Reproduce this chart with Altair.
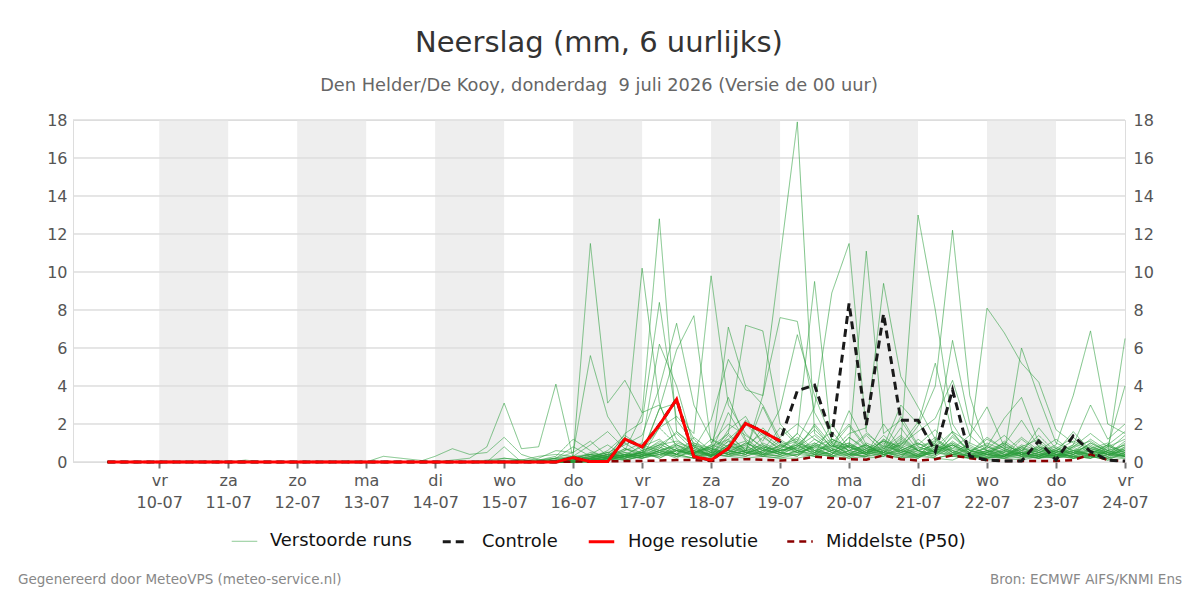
import altair as alt
import pandas as pd

# ---------------- data (mm per 6 h), steps from 09-07 06 UTC, every 6 h ----------------
START = "2026-07-09 06:00"
N_STEPS = 60

Z20 = [0, 0, 0, 0, 0, 0, 0, 0, 0, 0, 0, 0, 0, 0, 0, 0, 0, 0, 0, 0]

members = {
    "m01": Z20 + [0, 0, 0.1, 0.2, 0.1, 0.3, 0.4, 0.3, 11.5, 3.1, 4.3, 2.6, 3.0, 1.2, 0.5, 0.8, 1.5, 0.6, 0.4, 0.9]
               + [1.2, 0.5, 0.3, 0.8, 0.4, 0.6, 0.2, 0.4, 1.0, 0.5, 0.3, 0.2, 0.4, 0.8, 0.3, 0.2, 0.5, 0.9, 0.4, 0.6],
    "m02": [0, 0, 0, 0, 0, 0, 0, 0, 0, 0, 0, 0, 0, 0, 0, 0, 0.3, 0.2, 0.1, 0]
               + [0, 0, 0, 0.8, 0, 0.2, 0.6, 0.5, 5.6, 2.4, 1.0, 0.4, 2.8, 3.1, 1.2, 0.3, 0.9, 2.2, 1.4, 0.6]
               + [0.8, 1.9, 0.7, 0.3, 0.5, 1.1, 0.4, 0.2, 0.6, 0.9, 0.3, 0.1, 0.2, 0.6, 1.4, 0.5, 0.3, 0.2, 0.8, 1.2],
    "m03": Z20 + [0.1, 0.2, 0.8, 3.1, 0.7, 0.8, 4.1, 0.2, 0.1, 0.4, 1.3, 0.6, 1.8, 0.9, 0.4, 0.2, 1.1, 0.5, 0.3, 0.2]
               + [0.4, 0.9, 1.6, 0.5, 0.2, 0.3, 0.8, 0.4, 0.2, 0.1, 0.5, 1.3, 0.7, 0.3, 0.2, 0.4, 0.6, 0.3, 0.1, 0.2],
    "m04": Z20 + [0, 0, 0, 0.2, 0.1, 0, 0.1, 0.3, 0.4, 0.2, 0.6, 2.5, 12.8, 1.6, 0.8, 0.3, 1.7, 2.4, 0.9, 0.5]
               + [0.3, 1.0, 0.6, 2.7, 0.9, 0.4, 0.2, 1.2, 0.5, 0.3, 0.8, 0.4, 0.2, 0.1, 0.3, 0.6, 0.2, 0.4, 0.9, 0.3],
    "m05": Z20 + [0, 0, 0, 0, 0.1, 0.1, 0.2, 0.5, 1.1, 0.3, 1.0, 10.2, 3.1, 0.7, 0.4, 0.9, 3.4, 1.2, 0.6, 1.8]
               + [0.9, 0.4, 0.3, 0.6, 1.4, 0.5, 0.3, 0.2, 0.7, 1.0, 0.4, 0.2, 0.5, 0.3, 0.9, 0.4, 0.2, 0.3, 0.1, 0.5],
    "m06": Z20 + [0, 0, 0, 0, 0, 0.1, 0.3, 1.2, 0.6, 0.2, 1.5, 2.1, 8.4, 2.2, 1.0, 0.5, 2.6, 1.1, 0.4, 0.3]
               + [0.6, 0.3, 1.2, 0.8, 0.4, 2.0, 0.7, 0.3, 0.5, 1.6, 0.4, 0.2, 0.3, 0.7, 0.4, 0.2, 0.8, 1.1, 0.5, 0.3],
    "m07": Z20 + [0, 0, 0, 0.1, 0, 0, 0.2, 0.8, 0.3, 0.5, 0.9, 1.4, 3.9, 7.3, 3.0, 1.2, 0.6, 0.4, 1.3, 0.7]
               + [1.5, 0.6, 0.3, 0.4, 0.9, 0.5, 1.3, 0.6, 0.2, 0.4, 0.3, 0.6, 1.0, 0.4, 0.2, 0.5, 0.3, 0.7, 0.4, 1.1],
    "m08": Z20 + [0, 0, 0, 0, 0, 0, 0.1, 0.3, 0.9, 1.6, 0.7, 0.5, 2.8, 5.9, 7.7, 1.0, 2.0, 1.4, 0.8, 0.5]
               + [0.3, 0.9, 0.5, 0.2, 0.6, 0.4, 0.9, 2.1, 0.8, 0.3, 0.2, 0.5, 0.3, 0.8, 1.2, 0.4, 0.3, 0.2, 0.6, 0.9],
    "m09": Z20 + [0, 0, 0, 0, 0, 0.1, 0, 0.2, 0.4, 0.2, 0.7, 0.3, 1.8, 2.4, 1.5, 9.8, 3.0, 1.5, 0.7, 0.4]
               + [1.1, 0.5, 0.4, 1.3, 0.6, 0.3, 0.5, 0.9, 1.7, 0.6, 0.3, 0.4, 0.2, 0.5, 0.3, 0.7, 1.3, 0.5, 0.2, 0.4],
    "m10": Z20 + [0, 0, 0, 0, 0.1, 0, 0.2, 0.1, 0.5, 0.3, 0.6, 1.0, 6.2, 4.0, 0.8, 0.3, 1.4, 0.6, 2.9, 1.0]
               + [0.5, 0.8, 0.3, 0.6, 0.4, 1.0, 0.5, 0.3, 0.7, 0.4, 0.2, 0.3, 1.1, 0.5, 0.3, 0.2, 0.4, 0.8, 0.5, 0.3],
    "m11": Z20 + [0, 0, 0, 0, 0, 0, 0, 0.1, 0.3, 0.2, 0.4, 0.8, 1.2, 0.5, 0.9, 0.6, 1.5, 7.2, 6.9, 2.0]
               + [1.0, 0.6, 0.9, 0.4, 0.3, 1.2, 0.5, 0.2, 0.8, 0.6, 0.3, 0.5, 0.9, 2.2, 0.8, 0.4, 0.3, 0.6, 0.4, 0.2],
    "m12": Z20 + [0, 0, 0, 0, 0, 0, 0, 0, 0.2, 0.4, 0.3, 0.6, 0.9, 1.1, 0.7, 2.2, 5.4, 3.8, 3.5, 7.6]
               + [7.4, 2.6, 1.0, 0.6, 0.9, 0.4, 0.7, 0.3, 0.5, 1.0, 0.6, 0.3, 0.2, 0.4, 0.7, 0.3, 0.5, 0.2, 0.6, 1.4],
    "m13": Z20 + [0, 0, 0, 0, 0, 0, 0.1, 0, 0.3, 0.5, 0.2, 0.4, 0.7, 1.6, 0.9, 0.2, 7.1, 4.0, 3.0, 1.2]
               + [0.6, 2.0, 0.9, 0.4, 0.5, 0.3, 1.1, 0.6, 0.3, 0.8, 0.4, 0.2, 0.6, 0.3, 0.2, 0.5, 0.8, 0.3, 0.2, 0.5],
    "m14": Z20 + [0, 0, 0, 0, 0, 0, 0, 0.1, 0.2, 0.1, 0.3, 0.5, 0.9, 0.6, 0.4, 1.2, 0.8, 0.5, 3.5, 10.7]
               + [17.9, 1.5, 0.8, 1.9, 0.7, 0.4, 0.6, 0.3, 1.2, 0.5, 0.3, 0.8, 0.4, 0.2, 0.5, 0.3, 0.2, 0.6, 0.4, 0.3],
    "m15": Z20 + [0, 0, 0, 0, 0, 0, 0, 0, 0.1, 0.3, 0.2, 0.6, 1.0, 0.4, 0.8, 0.5, 1.2, 2.0, 1.1, 2.8]
               + [6.7, 3.5, 1.2, 0.8, 0.5, 1.4, 0.6, 0.3, 0.9, 0.4, 0.2, 0.5, 1.0, 0.4, 0.3, 0.6, 0.2, 0.4, 0.9, 0.5],
    "m16": Z20 + [0, 0, 0, 0, 0, 0, 0, 0.1, 0.2, 0.4, 0.1, 0.3, 0.6, 0.9, 0.5, 0.3, 0.8, 1.1, 0.4, 0.6]
               + [1.5, 9.5, 1.0, 2.0, 0.8, 0.5, 1.8, 0.6, 0.4, 1.1, 0.5, 0.3, 0.7, 0.4, 0.2, 0.3, 0.6, 0.4, 0.2, 0.8],
    "m17": Z20 + [0, 0, 0, 0, 0, 0, 0, 0, 0.1, 0.2, 0.5, 0.3, 0.8, 0.4, 1.3, 0.6, 0.4, 0.9, 1.5, 0.8]
               + [1.1, 2.9, 8.9, 11.5, 1.6, 0.7, 0.9, 0.5, 0.3, 1.4, 0.6, 0.4, 0.3, 0.8, 0.5, 0.2, 0.4, 0.7, 1.0, 0.4],
    "m18": Z20 + [0, 0, 0, 0, 0, 0, 0, 0, 0, 0.1, 0.3, 0.5, 0.2, 0.7, 0.5, 0.9, 0.6, 0.4, 1.0, 0.6]
               + [0.9, 1.7, 0.8, 0.8, 11.1, 1.5, 2.2, 0.8, 0.5, 0.9, 0.4, 0.6, 0.3, 1.2, 0.5, 0.3, 0.6, 0.4, 0.3, 0.7],
    "m19": Z20 + [0, 0, 0, 0, 0, 0, 0, 0, 0.1, 0.1, 0.2, 0.4, 0.3, 0.9, 0.6, 0.4, 1.1, 0.7, 0.5, 1.3]
               + [2.0, 1.2, 0.6, 1.5, 1.8, 9.4, 4.5, 2.9, 1.2, 0.7, 0.5, 1.0, 0.6, 0.4, 0.8, 0.3, 0.5, 1.2, 0.6, 0.4],
    "m20": Z20 + [0, 0, 0, 0, 0, 0, 0, 0.1, 0, 0.2, 0.4, 0.2, 0.6, 0.3, 0.5, 0.8, 0.4, 0.6, 0.9, 0.5]
               + [1.0, 0.7, 0.4, 0.9, 0.6, 0.8, 1.0, 13.0, 8.0, 2.0, 0.6, 0.9, 0.4, 0.3, 0.7, 0.4, 0.3, 0.5, 0.8, 0.6],
    "m21": Z20 + [0, 0, 0, 0, 0, 0, 0, 0, 0.2, 0.1, 0.3, 0.5, 0.4, 0.6, 0.3, 0.7, 0.5, 1.0, 0.6, 0.4]
               + [0.8, 0.5, 1.1, 0.6, 0.4, 1.2, 0.7, 1.9, 4.0, 12.2, 3.5, 0.5, 0.8, 0.4, 0.6, 0.3, 0.9, 0.5, 0.3, 0.6],
    "m22": Z20 + [0, 0, 0, 0, 0, 0, 0.1, 0.2, 0.4, 0.3, 0.2, 0.5, 0.8, 0.4, 0.6, 0.3, 0.9, 0.5, 0.7, 0.4]
               + [0.5, 1.2, 0.7, 0.4, 1.0, 0.6, 2.4, 0.9, 1.0, 6.4, 2.0, 0.8, 0.5, 1.3, 0.6, 0.4, 0.7, 0.3, 0.5, 0.9],
    "m23": Z20 + [0, 0, 0, 0, 0, 0, 0, 0.1, 0.3, 0.2, 0.4, 0.3, 0.6, 0.8, 0.5, 0.4, 0.7, 0.9, 0.3, 0.6]
               + [0.9, 0.4, 2.0, 0.7, 1.5, 0.8, 3.0, 2.0, 5.2, 1.5, 0.6, 0.4, 0.9, 0.5, 0.3, 0.6, 0.4, 1.0, 0.5, 0.3],
    "m24": Z20 + [0, 0, 0, 0, 0, 0, 0, 0, 0.1, 0.2, 0.1, 0.3, 0.5, 0.4, 0.2, 0.6, 0.4, 0.8, 0.5, 0.3]
               + [0.6, 0.9, 0.5, 0.3, 0.7, 1.1, 0.6, 0.4, 0.8, 1.6, 1.0, 8.1, 6.8, 5.2, 4.2, 1.7, 1.0, 0.6, 0.4, 0.8],
    "m25": Z20 + [0, 0, 0, 0, 0, 0, 0, 0.1, 0, 0.2, 0.3, 0.2, 0.4, 0.7, 0.3, 0.5, 0.6, 0.4, 0.8, 0.5]
               + [0.4, 0.8, 0.6, 1.0, 0.5, 0.7, 1.4, 0.6, 0.9, 0.5, 0.3, 0.6, 0.5, 6.0, 3.4, 1.0, 0.6, 0.8, 0.4, 0.7],
    "m26": Z20 + [0, 0, 0, 0, 0, 0, 0, 0, 0.1, 0.1, 0.3, 0.5, 0.2, 0.6, 0.4, 0.3, 0.7, 0.5, 0.4, 0.9]
               + [0.6, 0.4, 0.9, 0.5, 0.3, 0.8, 0.6, 1.0, 0.5, 1.3, 0.6, 0.4, 0.3, 0.7, 0.5, 0.9, 3.5, 6.9, 2.0, 1.5],
    "m27": Z20 + [0, 0, 0, 0, 0, 0, 0, 0, 0, 0.2, 0.1, 0.3, 0.6, 0.4, 0.2, 0.5, 0.3, 0.6, 0.4, 0.7]
               + [0.5, 0.3, 0.6, 0.9, 0.4, 0.6, 0.3, 0.8, 0.5, 0.4, 1.0, 0.6, 0.4, 0.5, 0.3, 0.6, 1.1, 0.7, 0.5, 6.5],
    "m28": Z20 + [0, 0, 0, 0, 0, 0, 0, 0.1, 0.2, 0.1, 0.4, 0.3, 0.5, 0.2, 0.7, 0.4, 0.5, 0.3, 0.6, 0.8]
               + [0.7, 0.5, 1.0, 0.4, 0.8, 0.5, 1.2, 0.6, 0.4, 0.9, 0.5, 0.7, 1.4, 0.6, 0.4, 0.3, 0.8, 1.5, 0.8, 4.0],
    "m29": Z20 + [0, 0, 0, 0, 0, 0, 0, 0, 0.1, 0.3, 0.2, 0.4, 0.3, 0.6, 0.5, 0.7, 0.4, 0.3, 0.6, 0.5]
               + [0.9, 0.6, 0.4, 1.3, 0.7, 0.5, 0.9, 1.6, 2.3, 4.3, 1.4, 2.9, 0.8, 0.6, 0.4, 0.7, 0.5, 0.3, 0.6, 0.4],
    "m30": Z20 + [0, 0, 0, 0, 0, 0, 0, 0.2, 0.1, 0.3, 0.5, 0.3, 0.7, 0.4, 0.9, 0.5, 0.6, 0.4, 0.8, 0.6]
               + [0.7, 1.0, 0.5, 0.8, 0.4, 0.9, 0.5, 0.7, 1.1, 0.6, 0.4, 0.8, 2.3, 3.4, 1.0, 0.5, 0.9, 3.0, 1.2, 2.0],
    "m31": Z20 + [0, 0, 0, 0, 0, 0, 0, 0.3, 0.2, 0.6, 1.4, 0.8, 0.5, 1.0, 0.7, 0.3, 0.9, 0.6, 1.8, 0.9]
               + [0.5, 0.8, 1.2, 0.6, 0.9, 0.4, 0.6, 1.0, 0.5, 0.7, 1.4, 0.6, 0.3, 0.5, 1.8, 0.7, 0.4, 0.6, 0.9, 1.6],
    "m32": Z20 + [0, 0, 0, 0, 0, 0, 0, 0, 0.4, 0.9, 0.3, 0.5, 1.1, 0.6, 0.4, 0.8, 1.2, 0.5, 0.3, 0.7]
               + [1.3, 0.6, 0.4, 0.9, 0.5, 1.1, 0.8, 0.4, 0.6, 0.9, 0.5, 1.2, 0.7, 0.4, 0.8, 0.5, 1.6, 0.6, 0.3, 1.0],
    "m33": Z20 + [0, 0, 0, 0, 0, 0, 0, 0, 0.1, 0.3, 0.7, 0.4, 0.9, 1.5, 0.6, 0.3, 0.5, 1.0, 0.7, 0.4]
               + [0.8, 1.4, 0.6, 0.3, 0.7, 0.5, 1.0, 0.6, 0.9, 0.4, 0.7, 0.5, 0.3, 0.9, 0.6, 1.2, 0.5, 0.4, 0.7, 0.5],
    "m34": Z20 + [0, 0, 0, 0, 0, 0, 0, 0.1, 0.2, 0.5, 0.3, 0.9, 0.6, 0.4, 1.0, 0.7, 0.4, 0.6, 0.5, 1.1]
               + [0.6, 0.4, 0.8, 1.0, 0.5, 0.7, 0.4, 0.6, 1.3, 0.5, 0.9, 0.4, 0.6, 0.3, 0.5, 0.8, 0.4, 1.0, 0.6, 0.3],
    "m35": Z20 + [0, 0, 0, 0, 0, 0, 0, 0, 0, 0.2, 0.4, 0.2, 0.5, 0.3, 0.6, 0.4, 0.3, 0.5, 0.4, 0.3]
               + [0.4, 0.3, 0.6, 0.4, 0.3, 0.5, 0.4, 0.3, 0.6, 0.3, 0.2, 0.4, 0.3, 0.5, 0.2, 0.4, 0.3, 0.2, 0.4, 0.3],
    "m36": [0, 0, 0, 0, 0, 0, 0, 0, 0.1, 0, 0, 0, 0, 0, 0, 0, 0, 0, 0, 0.3]
               + [0.7, 0.4, 0.5, 1.3, 0.4, 0.1, 0.2, 0.3, 0.2, 0.4, 0.3, 0.2, 0.4, 0.3, 0.2, 0.4, 0.3, 0.2, 0.3, 0.2]
               + [0.2, 0.4, 0.3, 0.2, 0.3, 0.4, 0.2, 0.3, 0.2, 0.4, 0.3, 0.2, 0.3, 0.2, 0.4, 0.3, 0.2, 0.3, 0.2, 0.3],
}

hres = Z20 + [0, 0, 0, 0, 0, 0, 0, 0.23, 0.02, 0.02, 1.2, 0.8, 1.95, 3.3, 0.28, 0.1, 0.72, 2.03, 1.6, 1.1]

control = Z20 + [0, 0, 0, 0, 0, 0, 0, 0.23, 0.02, 0.02, 1.2, 0.8, 1.95, 3.3, 0.28, 0.1, 0.72, 2.03, 1.6, 1.1] \
    + [3.75, 4.05, 1.33, 8.35, 1.95, 7.8, 2.2, 2.2, 0.55, 3.8, 0.3, 0.1, 0.05, 0.05, 1.1, 0.1, 1.37, 0.55, 0.1, 0.05]

median = [0, 0, 0, 0, 0, 0, 0, 0, 0, 0, 0, 0, 0, 0, 0, 0, 0, 0, 0, 0] \
    + [0, 0, 0, 0, 0, 0, 0, 0.02, 0.02, 0.03, 0.05, 0.05, 0.08, 0.1, 0.1, 0.05, 0.12, 0.15, 0.12, 0.08] \
    + [0.12, 0.28, 0.2, 0.15, 0.12, 0.35, 0.15, 0.08, 0.15, 0.35, 0.2, 0.1, 0.05, 0.05, 0.05, 0.05, 0.1, 0.4, 0.1, 0.05]

# shaded alternate days
band_starts = ["2026-07-10", "2026-07-12", "2026-07-14", "2026-07-16", "2026-07-18", "2026-07-20", "2026-07-22"]
band_ends = ["2026-07-11", "2026-07-13", "2026-07-15", "2026-07-17", "2026-07-19", "2026-07-21", "2026-07-23"]
tick_days = ["2026-07-%02d" % d for d in range(10, 25)]
y_ticks = [0, 2, 4, 6, 8, 10, 12, 14, 16, 18]

KINDS = ["Verstoorde runs", "Controle", "Hoge resolutie", "Middelste (P50)"]

# ---------------- build tables ----------------
def ms(s):
    return int(pd.Timestamp(s, tz="UTC").value // 10**6)

t0 = pd.Timestamp(START, tz="UTC")
times = [int((t0 + pd.Timedelta(hours=6 * i)).value // 10**6) for i in range(N_STEPS)]

rows = []
for name, vals in members.items():
    assert len(vals) == N_STEPS, name
    for t, v in zip(times, vals):
        rows.append({"t": t, "v": v, "member": name, "kind": KINDS[0]})
ens_df = pd.DataFrame(rows)

def series_df(vals, kind):
    return pd.DataFrame({"t": times[:len(vals)], "v": vals, "member": kind, "kind": kind})

ctl_df = series_df(control, KINDS[1])
hres_df = series_df(hres, KINDS[2])
med_df = series_df(median, KINDS[3])

bands_df = pd.DataFrame({"start": [ms(s) for s in band_starts], "end": [ms(s) for s in band_ends]})
grid_df = pd.DataFrame({"v": y_ticks})

# ---------------- encodings ----------------
FONT = "DejaVu Sans"
W, H = 1052, 342
xscale = alt.Scale(type="utc", domain=[ms("2026-07-08 18:00"), ms("2026-07-24 00:00")])
yscale = alt.Scale(domain=[0, 18], nice=False)

day_expr = ("[['zo','ma','di','wo','do','vr','za'][utcday(datum.value)], "
            "utcFormat(datum.value, '%d-%m')]")
xaxis = alt.Axis(values=[ms(d) for d in tick_days], labelExpr=day_expr, title=None, grid=False,
                 domain=False, ticks=True, tickColor="#777777", tickWidth=2, tickSize=6,
                 labelFontSize=16, labelColor="#555555", labelFont=FONT, labelLineHeight=22,
                 labelPadding=4, labelFlush=False)

def X(field="t"):
    return alt.X(f"{field}:T", scale=xscale, axis=xaxis)

kind_color = alt.Color("kind:N", scale=alt.Scale(domain=KINDS,
                       range=["#2a9d3a", "#1a1a1a", "#ff0000", "#8b0000"]),
                       legend=alt.Legend(title=None, orient="none", direction="horizontal",
                                         legendX=158, legendY=407,
                                         labelFontSize=17.9, labelFont=FONT, labelColor="#111111",
                                         symbolType="stroke", symbolSize=650, columnPadding=24,
                                         labelOffset=12))
kind_dash = alt.StrokeDash("kind:N", scale=alt.Scale(domain=KINDS,
                           range=[[1, 0], [8, 5], [1, 0], [7, 5]]))
kind_width = alt.StrokeWidth("kind:N", scale=alt.Scale(type="ordinal", domain=KINDS,
                             range=[1, 3, 3, 2.5]))
kind_op = alt.Opacity("kind:N", scale=alt.Scale(type="ordinal", domain=KINDS,
                      range=[0.6, 1, 1, 1]))

def line_layer(df):
    return alt.Chart(df).mark_line(strokeCap="butt", strokeJoin="miter").encode(
        x=X(),
        y=alt.Y("v:Q", scale=yscale, axis=None),
        detail="member:N",
        color=kind_color, strokeDash=kind_dash, strokeWidth=kind_width, opacity=kind_op,
    )

bands = alt.Chart(bands_df).mark_rect(color="#eeeeee").encode(
    x=X("start"), x2="end:T", y=alt.value(0), y2=alt.value(H))

grid = alt.Chart(grid_df).mark_rule(color="#dddddd", strokeWidth=1).encode(
    y=alt.Y("v:Q", scale=yscale,
            axis=alt.Axis(orient="left", values=y_ticks, title=None, grid=False, domain=False,
                          ticks=False, labelFontSize=16, labelColor="#555555", labelFont=FONT,
                          labelPadding=6)))

right_axis = alt.Chart(grid_df).mark_rule(color="#dddddd", strokeWidth=1).encode(
    y=alt.Y("v:Q", scale=yscale,
            axis=alt.Axis(orient="right", values=y_ticks, title=None, grid=False, domain=True,
                          domainColor="#dddddd", ticks=False, labelFontSize=16,
                          labelColor="#555555", labelFont=FONT, labelPadding=8)))

footer_left = alt.Chart(pd.DataFrame({"s": ["Gegenereerd door MeteoVPS (meteo-service.nl)"]})).mark_text(
    align="left", baseline="middle", fontSize=13.5, font=FONT, color="#888888").encode(
    x=alt.value(-55), y=alt.value(460), text="s:N")
footer_right = alt.Chart(pd.DataFrame({"s": ["Bron: ECMWF AIFS/KNMI Ens"]})).mark_text(
    align="right", baseline="middle", fontSize=13.5, font=FONT, color="#888888").encode(
    x=alt.value(1109), y=alt.value(460), text="s:N")

chart = alt.layer(
    bands, grid, right_axis,
    line_layer(ens_df), line_layer(med_df), line_layer(ctl_df), line_layer(hres_df),
    footer_left, footer_right,
).resolve_axis(y="independent").properties(
    width=W, height=H,
    autosize=alt.AutoSizeParams(type="none"),
    padding={"left": 73, "top": 120, "right": 75, "bottom": 138},
    title=alt.TitleParams(
        text="Neerslag (mm, 6 uurlijks)",
        subtitle="Den Helder/De Kooy, donderdag\u00a0 9 juli 2026 (Versie de 00 uur)",
        anchor="middle", font=FONT, fontSize=29, fontWeight="normal", color="#333333",
        subtitleFont=FONT, subtitleFontSize=17.8, subtitleColor="#666666",
        subtitlePadding=19, offset=17,
    ),
).configure_view(stroke=None).configure(background="white")

chart.save("out.html", embed_options={"renderer": "svg", "actions": False})
